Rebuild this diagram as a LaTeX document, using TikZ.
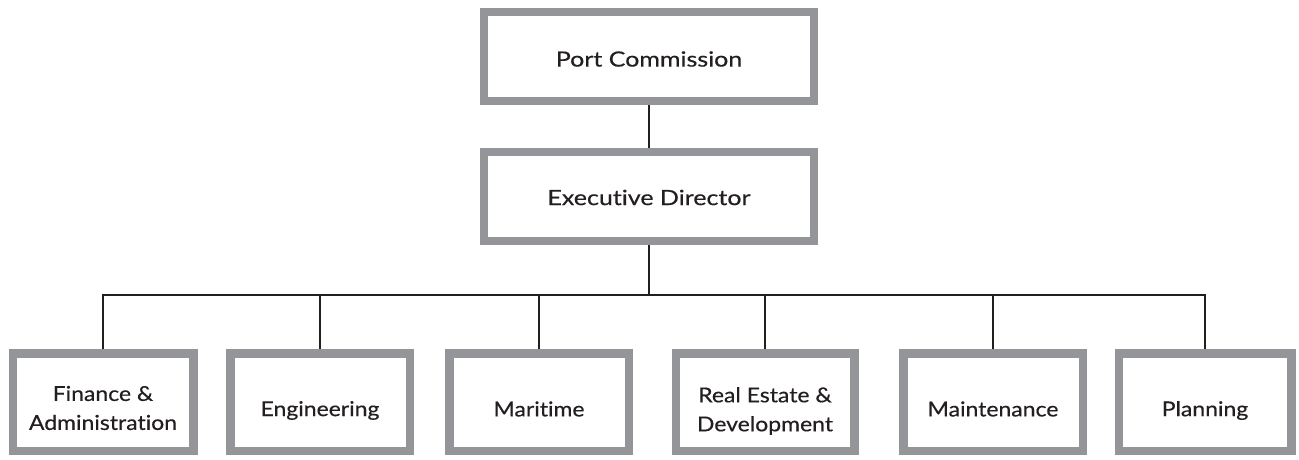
\documentclass[tikz,border=0pt]{standalone}
\usepackage{fontspec}
\setmainfont{Lato}
\newfontfamily\topfont[FakeStretch=1.19,FakeBold=0.4,Ligatures={NoCommon}]{Lato}
\newfontfamily\unitfont[FakeStretch=1.12,FakeBold=0.4,Ligatures={NoCommon}]{Lato}
\definecolor{boxgray}{RGB}{147,149,152}
\definecolor{ink}{RGB}{35,31,32}
\begin{document}
\begin{tikzpicture}[x=1pt,y=-1pt,
  topbox/.style={draw=boxgray,line width=8pt,fill=white,inner sep=0pt,
    minimum width=330pt,minimum height=89pt},
  unitbox/.style={draw=boxgray,line width=8.5pt,fill=white,inner sep=0pt,
    minimum height=97.5pt},
  toptxt/.style={text=ink,inner sep=0pt,font=\topfont\fontsize{21}{25}\selectfont},
  unittxt/.style={text=ink,inner sep=0pt,align=center,font=\unitfont\fontsize{20.5}{29}\selectfont},
  link/.style={draw=ink,line width=1.7pt}]
\useasboundingbox (0,0) rectangle (1299,460);
\node[topbox,label={[toptxt,yshift=-2.5pt]center:Port Commission}] (pc) at (649,56.5) {};
\node[topbox,label={[toptxt,yshift=-1pt]center:Executive Director}] (ed) at (649,196.5) {};
\node[unitbox,minimum width=180.5pt,label={[unittxt,yshift=-6pt]center:Finance \&\\Administration}] (fa) at (103,402) {};
\node[unitbox,minimum width=179.5pt,label={[unittxt,yshift=-8.5pt]center:Engineering}] (en) at (320,402) {};
\node[unitbox,minimum width=179.5pt,label={[unittxt,yshift=-7pt]center:Maritime}] (ma) at (539,402) {};
\node[unitbox,minimum width=178.5pt,label={[unittxt,yshift=-9pt]center:Real Estate \&\\Development}] (re) at (765,402) {};
\node[unitbox,minimum width=179.5pt,label={[unittxt,yshift=-7pt]center:Maintenance}] (mn) at (993,402) {};
\node[unitbox,minimum width=172.5pt,label={[unittxt,yshift=-8.5pt]center:Planning}] (pl) at (1205,402) {};
\coordinate (bus) at (649,295);
\draw[link] (pc) -- (ed);
\draw[link] (ed) -- (bus);
\draw[link] (fa.north) |- (bus) -| (pl.north);
\foreach \n in {en,ma,re,mn}
  \draw[link] (\n.north) -- (\n.north |- bus);
\end{tikzpicture}
\end{document}
